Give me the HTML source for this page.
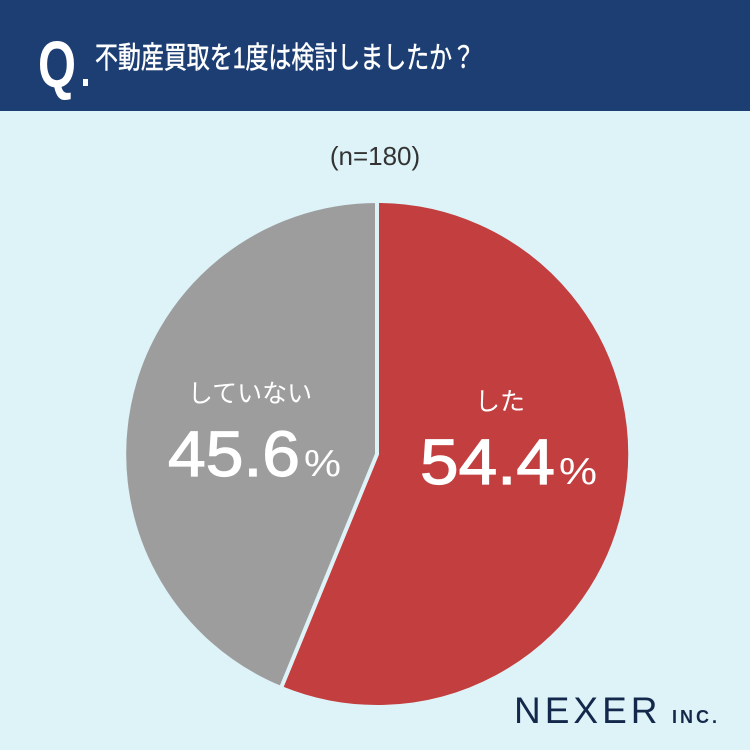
<!DOCTYPE html>
<html><head><meta charset="utf-8"><style>
body{margin:0;width:750px;height:750px;overflow:hidden;background:#ddf3f8;font-family:"Liberation Sans","Noto Sans CJK JP",sans-serif;}
</style></head><body>
<svg width="750" height="750" xmlns="http://www.w3.org/2000/svg" style="position:absolute;left:0;top:0">
<rect x="0" y="0" width="750" height="750" fill="#ddf3f8"/>
<rect x="0" y="0" width="750" height="111" fill="#1c3e73"/>
<text x="38" y="87" font-family="Liberation Sans, sans-serif" font-size="66" font-weight="bold" fill="#fff" textLength="38" lengthAdjust="spacingAndGlyphs">Q</text>
<rect x="83" y="79" width="5" height="7" fill="#fff"/>
<text x="95" y="68" font-family="Liberation Sans, Noto Sans CJK JP, sans-serif" font-size="30" fill="#fff" stroke="#fff" stroke-width="0.5" textLength="380" lengthAdjust="spacingAndGlyphs">不動産買取を1度は検討しましたか？</text>
<text x="375" y="165" text-anchor="middle" font-family="Liberation Sans, sans-serif" font-size="26" fill="#333">(n=180)</text>
<path d="M377,454 L377,201 A253,253 0 1,1 281,688 Z" fill="#c33e3f" stroke="#ddf3f8" stroke-width="4" stroke-linejoin="round"/>
<path d="M377,454 L281,688 A253,253 0 0,1 377,201 Z" fill="#9d9d9d" stroke="#ddf3f8" stroke-width="4" stroke-linejoin="round"/>
<text x="250" y="402" text-anchor="middle" font-family="Liberation Sans, Noto Sans CJK JP, sans-serif" font-size="25" fill="#fff">していない</text>
<text x="168" y="476" font-family="Liberation Sans, sans-serif" font-size="64" fill="#fff" stroke="#fff" stroke-width="1.2" textLength="132" lengthAdjust="spacingAndGlyphs">45.6</text>
<text x="304" y="476" font-family="Liberation Sans, sans-serif" font-size="38" fill="#fff" textLength="37" lengthAdjust="spacingAndGlyphs">%</text>
<text x="500" y="410" text-anchor="middle" font-family="Liberation Sans, Noto Sans CJK JP, sans-serif" font-size="25" fill="#fff">した</text>
<text x="420" y="484" font-family="Liberation Sans, sans-serif" font-size="64" fill="#fff" stroke="#fff" stroke-width="1.2" textLength="135" lengthAdjust="spacingAndGlyphs">54.4</text>
<text x="559" y="484" font-family="Liberation Sans, sans-serif" font-size="38" fill="#fff" textLength="38" lengthAdjust="spacingAndGlyphs">%</text>
<text x="514" y="723" font-family="Liberation Sans, sans-serif" font-size="37" fill="#14284b" letter-spacing="4">NEXER</text>
<text x="672" y="723" font-family="Liberation Sans, sans-serif" font-size="18" font-weight="bold" fill="#14284b" letter-spacing="3">INC.</text>
</svg>
</body></html>
